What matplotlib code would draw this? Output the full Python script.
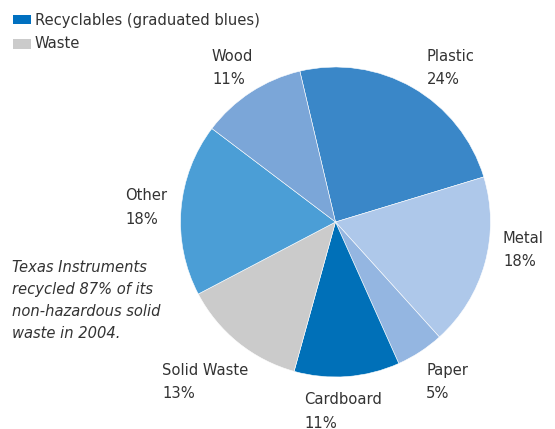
import matplotlib
matplotlib.use("Agg")
import matplotlib.pyplot as plt
from matplotlib.patches import Rectangle

W, H = 555, 429

labels = ["Plastic", "Metal", "Paper", "Cardboard", "Solid Waste", "Other", "Wood"]
shares = [24, 18, 5, 11, 13, 18, 11]
colors = ["#3a87c8", "#aec8ea", "#94b6e1", "#0070b8", "#cbcbcb", "#4b9ed6", "#7ba6d8"]

# label anchor (left edge, first baseline) in pixel coords from the top-left
label_pos = {
    "Plastic": (427, 61),
    "Metal": (503, 243),
    "Paper": (426, 375),
    "Cardboard": (304, 404),
    "Solid Waste": (162, 375),
    "Other": (125, 200),
    "Wood": (212, 61),
}

legend_items = [("Recyclables (graduated blues)", "#0070c0"), ("Waste", "#cbcbcb")]
note_lines = ["Texas Instruments", "recycled 87% of its",
              "non-hazardous solid", "waste in 2004."]

plt.rcParams["font.family"] = ["DejaVu Sans"]
plt.rcParams["font.stretch"] = "condensed"
TXT = "#333333"
FS = 11.8

fig = plt.figure(figsize=(W / 100, H / 100), dpi=100)
ax = fig.add_axes([0, 0, 1, 1])
ax.set_xlim(0, W)
ax.set_ylim(0, H)
ax.set_aspect("equal")
ax.axis("off")

ax.pie(shares, colors=colors, center=(335.5, H - 222), radius=155,
       startangle=103.3, counterclock=False,
       wedgeprops=dict(edgecolor="white", linewidth=0.4))
ax.set_xlim(0, W)
ax.set_ylim(0, H)

for name, val in zip(labels, shares):
    x, y = label_pos[name]
    ax.text(x, H - y, name, fontsize=FS, color=TXT, ha="left", va="baseline")
    ax.text(x, H - y - 23.5, f"{val}%", fontsize=FS, color=TXT,
            ha="left", va="baseline")

# legend swatches
for i, (txt, c) in enumerate(legend_items):
    top = 15 + i * 24.3
    ax.add_patch(Rectangle((13, H - top - 9.3), 17.5, 9.3, color=c, lw=0))
    ax.text(35, H - (25 + i * 22.5), txt, fontsize=FS, color=TXT,
            ha="left", va="baseline")

for i, line in enumerate(note_lines):
    ax.text(12, H - (271.5 + i * 22.3), line, fontsize=FS, color=TXT,
            style="italic", ha="left", va="baseline")

fig.savefig("out.png", dpi=100)
